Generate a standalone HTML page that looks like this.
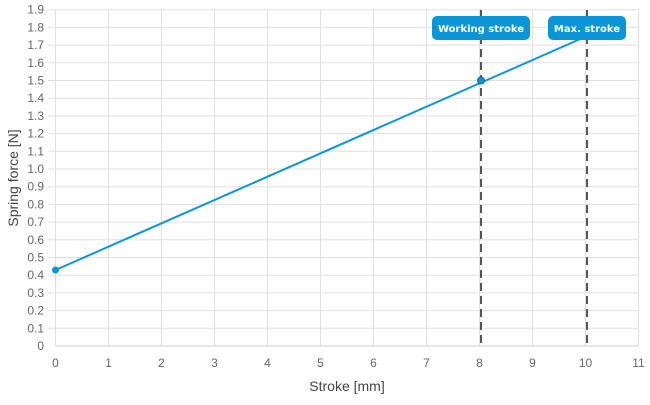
<!DOCTYPE html><html><head><style>body{margin:0;background:#fff}svg{font-family:"Liberation Sans",sans-serif}</style></head><body>
<svg width="650" height="400" xmlns="http://www.w3.org/2000/svg">
<g stroke="#e0e0e0" stroke-width="1">
<line x1="55.5" y1="346" x2="55.5" y2="9.7"/><line x1="108.5" y1="346" x2="108.5" y2="9.7"/><line x1="161.5" y1="346" x2="161.5" y2="9.7"/><line x1="214.5" y1="346" x2="214.5" y2="9.7"/><line x1="267.5" y1="346" x2="267.5" y2="9.7"/><line x1="320.5" y1="346" x2="320.5" y2="9.7"/><line x1="373.5" y1="346" x2="373.5" y2="9.7"/><line x1="426.5" y1="346" x2="426.5" y2="9.7"/><line x1="479.5" y1="346" x2="479.5" y2="9.7"/><line x1="532.5" y1="346" x2="532.5" y2="9.7"/><line x1="585.5" y1="346" x2="585.5" y2="9.7"/><line x1="638.5" y1="346" x2="638.5" y2="9.7"/>
</g>
<g stroke="#e0e0e0" id="h"></g>
<g font-size="12" fill="#666" text-anchor="end" id="yl"></g>
<g font-size="12" fill="#666" text-anchor="middle" id="xl"></g>
<line x1="55.5" y1="346" x2="638.5" y2="346" stroke="#ccc"/>
<line x1="481" y1="10" x2="481" y2="346" stroke="#555" stroke-width="2" stroke-dasharray="8,5"/>
<line x1="587" y1="10" x2="587" y2="346" stroke="#555" stroke-width="2" stroke-dasharray="8,5"/>
<line x1="55.5" y1="270" x2="587" y2="36" stroke="#0a96d6" stroke-width="2"/>
<circle cx="55.5" cy="270" r="3.5" fill="#0a96d6"/>
<circle cx="481" cy="80.5" r="3.5" fill="#0a96d6" stroke="#1a6a90"/>
<rect x="432" y="16" width="98" height="24" rx="5" fill="#0a96d6"/>
<text x="481" y="32" font-size="10" font-weight="bold" fill="#fff" text-anchor="middle" font-family="DejaVu Sans">Working stroke</text>
<rect x="548" y="16" width="78" height="24" rx="5" fill="#0a96d6"/>
<text x="587" y="32" font-size="10" font-weight="bold" fill="#fff" text-anchor="middle" font-family="DejaVu Sans">Max. stroke</text>
<text x="347" y="391" font-size="14" fill="#444" text-anchor="middle">Stroke [mm]</text>
<text transform="translate(18,178) rotate(-90)" font-size="14" fill="#444" text-anchor="middle">Spring force [N]</text>
</svg>
<script>
var h=document.getElementById('h'),yl=document.getElementById('yl'),xl=document.getElementById('xl'),ns='http://www.w3.org/2000/svg';
for(var i=0;i<=19;i++){var y=346-i*17.7;if(i>0){var l=document.createElementNS(ns,'line');l.setAttribute('x1',48);l.setAttribute('x2',638.5);l.setAttribute('y1',y);l.setAttribute('y2',y);h.appendChild(l);}
var t=document.createElementNS(ns,'text');t.setAttribute('x',44);t.setAttribute('y',y+4);t.textContent=i==0?'0':(i/10).toFixed(1);yl.appendChild(t);}
for(var j=0;j<=11;j++){var t=document.createElementNS(ns,'text');t.setAttribute('x',55.5+j*53);t.setAttribute('y',367);t.textContent=j;xl.appendChild(t);}
</script>
</body></html>
